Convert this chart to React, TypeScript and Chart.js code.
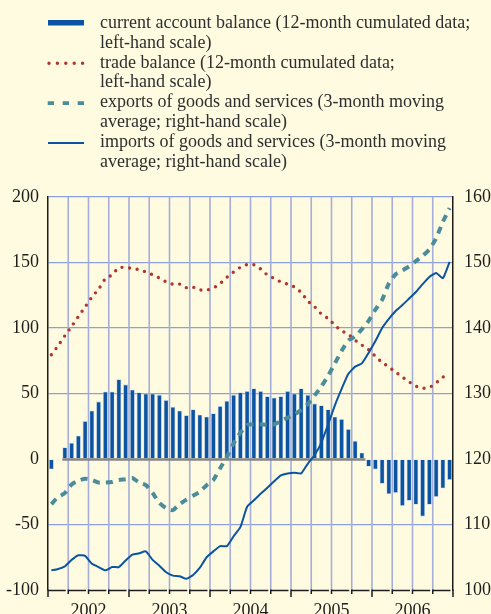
import React, { useEffect, useRef } from "react";
import { Chart, registerables } from "chart.js";

Chart.register(...registerables);

// Monthly observations, January 2002 to December 2006
const years = [2002, 2003, 2004, 2005, 2006];
const monthLabels = years.flatMap((y) =>
  Array.from({ length: 12 }, (_, m) => `${y}-${String(m + 1).padStart(2, "0")}`)
);

// EUR billions, 12-month cumulated (left-hand scale)
const currentAccount = [
  -8, -1, 9, 12.5, 18, 29, 37, 44, 51.5, 51.5,
  61, 57, 53, 51, 50, 50, 49, 45, 40, 37,
  33.5, 38, 34, 32.5, 35, 40.5, 44.5, 49, 51, 52,
  54, 52, 48, 47, 48, 52, 50, 54, 49, 42.5,
  41, 38, 32.5, 30.5, 23, 14, 5, -6, -8, -19,
  -27, -26, -36, -32, -35, -44, -35, -29, -22.5, -16,
];

const tradeBalance = [
  79.6, 86.5, 94.1, 101.3, 108.8, 116.1, 123.6, 129.7, 137.6, 140.6,
  146, 146, 145.5, 144.5, 142.8, 140.7, 138.2, 135.3, 133.5, 133.5,
  130.8, 131.1, 129.1, 129, 130.6, 134, 138.7, 142.8, 146.3, 148.4,
  148.3, 145.1, 140.5, 137.9, 135.2, 133.5, 131.3, 127.1, 120.6, 116.2,
  110.7, 107.2, 102.1, 97.9, 95, 90.7, 87, 83.5, 78.4, 73.8,
  70.2, 66.4, 62.6, 58.9, 55.6, 54, 54.7, 58.1, 62.5, 64.3,
];

// EUR billions, 3-month moving averages (right-hand scale)
const exportsGS = [
  113.1, 114.2, 114.8, 116.1, 116.7, 117, 116.8, 116.4, 116.4, 116.5,
  116.8, 116.9, 117.1, 116.4, 116, 114.8, 113.3, 112.5, 112.2, 113.1,
  113.8, 114.4, 115, 116, 116.8, 118.6, 120.3, 122.4, 124, 125.2,
  125.3, 125.3, 125.2, 125.3, 125.8, 126.3, 126.8, 127.5, 128.4, 129.7,
  131.1, 132.7, 134.6, 136.5, 138.1, 138.7, 139.8, 141.1, 142.8, 144.3,
  146.8, 148.2, 148.8, 149.4, 150.2, 151, 152, 153.7, 156.2, 158.3,
];

const importsGS = [
  103, 103.2, 103.6, 104.6, 105.3, 105.2, 104, 103.5, 103, 103.5,
  103.5, 104.5, 105.4, 105.6, 105.9, 104.6, 103.7, 102.7, 102.2, 102.1,
  101.7, 102.3, 103.4, 105, 105.9, 106.7, 106.7, 108.2, 109.6, 112.7,
  113.7, 114.7, 115.6, 116.6, 117.5, 117.8, 117.9, 117.8, 119.3, 120.6,
  122.5, 125.3, 128.2, 130.7, 133, 134.1, 134.6, 136.2, 138, 140,
  141.4, 142.6, 143.5, 144.5, 145.5, 146.7, 147.8, 148.4, 147.6, 150.1,
];

const legendEntries = [
  { kind: "bar", lines: ["current account balance (12-month cumulated data;", "left-hand scale)"] },
  { kind: "dots", lines: ["trade balance (12-month cumulated data;", "left-hand scale)"] },
  { kind: "dash", lines: ["exports of goods and services (3-month moving", "average; right-hand scale)"] },
  { kind: "line", lines: ["imports of goods and services (3-month moving", "average; right-hand scale)"] },
];

const BG = "#fffbe1";
const BLUE = "#0b53a3";
const RED = "#b3332d";
const TEAL = "#4b8c9b";
const GRID_H = "#8e9fde";
const GRID_V = "#a4aed8";
const AXIS = "#1c1c1c";
const FONT = "'Liberation Serif', 'Times New Roman', serif";

// Quarterly vertical grid, zero line under the positive bars, and the segmented time axis
const framePlugin = {
  id: "frame",
  beforeDatasetsDraw(chart: any) {
    const { ctx, chartArea: a, scales } = chart;
    const xs = scales.x;
    const n = monthLabels.length;
    const slot = (a.right - a.left) / n;
    ctx.save();
    ctx.strokeStyle = GRID_V;
    ctx.lineWidth = 1.6;
    for (let i = 3; i < n; i += 3) {
      const px = xs.getPixelForValue(i) - slot / 2;
      ctx.beginPath();
      ctx.moveTo(px, a.top);
      ctx.lineTo(px, a.bottom);
      ctx.stroke();
    }
    const positive = currentAccount.map((v, i) => (v > 0 ? i : -1)).filter((i) => i >= 0);
    const meta = chart.getDatasetMeta(0);
    const half = (meta.data[0] as any).width / 2;
    const y0 = scales.y.getPixelForValue(0);
    const x1 = xs.getPixelForValue(positive[0]) - half;
    const x2 = xs.getPixelForValue(positive[positive.length - 1]) + half + 1;
    ctx.strokeStyle = "#858585";
    ctx.lineWidth = 2.4;
    ctx.beginPath();
    ctx.moveTo(x1, y0 + 0.5);
    ctx.lineTo(x2, y0 + 0.5);
    ctx.stroke();
    ctx.restore();
  },
  afterDraw(chart: any) {
    const { ctx, chartArea: a, scales } = chart;
    const xs = scales.x;
    const n = monthLabels.length;
    const slot = (a.right - a.left) / n;
    const q = n / 3;
    ctx.save();
    ctx.strokeStyle = AXIS;
    ctx.lineWidth = 1.5;
    const yb = a.bottom + 0.5;
    for (let k = 0; k <= q; k++) {
      const px = k < q ? xs.getPixelForValue(k * 3) - slot / 2 : a.right;
      const len = k % 4 === 0 ? 7 : 4;
      ctx.beginPath();
      ctx.moveTo(px, a.bottom - 0.5);
      ctx.lineTo(px, a.bottom + len);
      ctx.stroke();
      if (k < q) {
        ctx.beginPath();
        ctx.moveTo(px, yb);
        ctx.lineTo(px + slot * 3 - 2.5, yb);
        ctx.stroke();
      }
    }
    ctx.restore();
  },
};

function Legend() {
  const top0 = 12.8;
  const step = 39.8;
  const lh = 19.8;
  return (
    <>
      <svg
        width={100}
        height={170}
        style={{ position: "absolute", left: 0, top: 0 }}
      >
        {legendEntries.map((e, k) => {
          const cy = top0 + k * step + lh / 2 + (k === 0 ? 0 : 0.8);
          if (e.kind === "bar")
            return <line key={k} x1={48} x2={84} y1={cy} y2={cy} stroke={BLUE} strokeWidth={5.5} />;
          if (e.kind === "dots")
            return (
              <line key={k} x1={49} x2={84} y1={cy} y2={cy} stroke={RED} strokeWidth={3.4}
                strokeLinecap="round" strokeDasharray="0 8.4" />
            );
          if (e.kind === "dash")
            return (
              <line key={k} x1={47.7} x2={85} y1={cy} y2={cy} stroke={TEAL} strokeWidth={3.6}
                strokeDasharray="6.3 8.7" />
            );
          return <line key={k} x1={48} x2={84} y1={cy} y2={cy} stroke={BLUE} strokeWidth={2} />;
        })}
      </svg>
      {legendEntries.map((e, k) => (
        <div
          key={k}
          style={{
            position: "absolute",
            left: 100,
            top: top0 + k * step,
            fontFamily: FONT,
            fontSize: 18,
            lineHeight: `${lh}px`,
            color: "#2e2e2e",
            whiteSpace: "nowrap",
          }}
        >
          {e.lines.map((l, j) => (
            <div key={j}>{l}</div>
          ))}
        </div>
      ))}
    </>
  );
}

export default function App() {
  const canvasRef = useRef<HTMLCanvasElement | null>(null);

  useEffect(() => {
    const canvas = canvasRef.current;
    if (!canvas) return;
    const tickFont = { family: FONT, size: 18 };
    const chart = new Chart(canvas, {
      type: "bar",
      data: {
        labels: monthLabels,
        datasets: [
          {
            type: "bar",
            label: "current account balance",
            data: currentAccount,
            yAxisID: "y",
            backgroundColor: BLUE,
            borderColor: "rgba(200,216,240,0.9)",
            borderWidth: 0.8,
            categoryPercentage: 1,
            barPercentage: 0.76,
            order: 4,
          },
          {
            type: "line",
            label: "trade balance",
            data: tradeBalance,
            yAxisID: "y",
            borderColor: RED,
            borderWidth: 3.4,
            borderDash: [0, 7.6],
            borderCapStyle: "round",
            pointRadius: 0,
            tension: 0.3,
            fill: false,
            order: 3,
          },
          {
            type: "line",
            label: "exports of goods and services",
            data: exportsGS,
            yAxisID: "y2",
            borderColor: TEAL,
            borderWidth: 4,
            borderDash: [7, 6],
            borderCapStyle: "butt",
            pointRadius: 0,
            tension: 0.2,
            fill: false,
            order: 2,
          },
          {
            type: "line",
            label: "imports of goods and services",
            data: importsGS,
            yAxisID: "y2",
            borderColor: BLUE,
            borderWidth: 2,
            pointRadius: 0,
            tension: 0.15,
            fill: false,
            order: 1,
          },
        ] as any,
      },
      options: {
        responsive: false,
        animation: false,
        events: [],
        layout: { padding: { top: 197, left: 0, right: 0, bottom: 0 } },
        plugins: { legend: { display: false }, tooltip: { enabled: false } },
        scales: {
          x: {
            type: "category",
            offset: true,
            grid: { display: false, drawTicks: false },
            border: { display: false },
            ticks: {
              autoSkip: false,
              maxRotation: 0,
              minRotation: 0,
              padding: 10,
              labelOffset: -3.4,
              color: "#1e1e1e",
              font: tickFont,
              callback: (_v: any, i: number) => (i % 12 === 6 ? String(years[Math.floor(i / 12)]) : ""),
            },
            afterFit: (s: any) => {
              s.height = 24;
            },
          },
          y: {
            position: "left",
            min: -100,
            max: 200,
            ticks: { stepSize: 50, padding: 9, color: "#1e1e1e", font: tickFont },
            grid: {
              drawTicks: false,
              lineWidth: 1.3,
              color: (c: any) => (c.tick && (c.tick.value === 0 || c.tick.value === -100) ? "rgba(0,0,0,0)" : GRID_H),
            },
            border: { display: true, color: AXIS, width: 1.5 },
            afterFit: (s: any) => {
              s.width = 48;
            },
          },
          y2: {
            position: "right",
            min: 100,
            max: 160,
            ticks: { stepSize: 10, padding: 11, color: "#1e1e1e", font: tickFont },
            grid: { display: false, drawTicks: false },
            border: { display: true, color: AXIS, width: 1.5 },
            afterFit: (s: any) => {
              s.width = 38;
            },
          },
        },
      } as any,
      plugins: [framePlugin],
    });
    return () => chart.destroy();
  }, []);

  return (
    <div
      style={{
        position: "fixed",
        left: 0,
        top: 0,
        width: 491,
        height: 614,
        background: BG,
        overflow: "hidden",
      }}
    >
      <canvas
        ref={canvasRef}
        width={491}
        height={614}
        style={{ position: "absolute", left: 0, top: 0, display: "block" }}
      />
      <Legend />
    </div>
  );
}
